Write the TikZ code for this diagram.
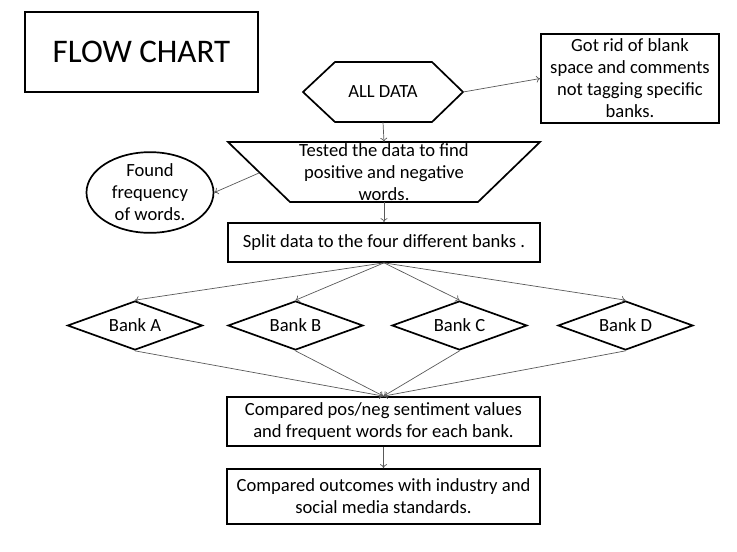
\documentclass[tikz,border=0pt]{standalone}
\usepackage{fontspec}
\setmainfont{Carlito}
\usetikzlibrary{shapes.geometric,arrows.meta}
\begin{document}
\begin{tikzpicture}[x=1pt,y=-1pt,
  shapeline/.style={draw=black, line width=1.7pt},
  mainfont/.style={font=\fontsize{18.6}{22}\selectfont},
  box/.style={shapeline, rectangle, inner sep=0pt, align=center, mainfont},
  ghost/.style={rectangle, inner sep=0pt, align=center, mainfont},
  bank/.style={shapeline, diamond, inner sep=0pt, minimum width=135pt, minimum height=49pt, aspect=2.75, mainfont},
  conn/.style={draw=black!65, line width=0.7pt, -{To[length=4pt,width=7pt]}},
]
\useasboundingbox (0,0) rectangle (737,552);
% title
\node[box, minimum width=233pt, minimum height=80pt, font=\fontsize{33}{38}\selectfont] (title) at (141.5,52) {FLOW CHART};
% hexagon
\draw[shapeline] (303,92) -- (335,62) -- (432,62) -- (463,92) -- (432,122) -- (335,122) -- cycle;
\node[ghost, minimum width=160pt, minimum height=60pt] (all) at (383,92) {ALL DATA};
% right box
\node[box, minimum width=178pt, minimum height=89pt] (got) at (630,78.5) {Got rid of blank\\space and comments\\not tagging specific\\banks.};
% trapezoid
\draw[shapeline] (228,142) -- (540,142) -- (478,202) -- (290,202) -- cycle;
\node[ghost, minimum width=312pt, minimum height=60pt] (trap) at (384,172) {Tested the data to find\\positive and negative\\words.};
\coordinate (trapL) at (259,173);
% ellipse
\node[shapeline, ellipse, inner sep=0pt, minimum width=127pt, minimum height=75pt, align=center, mainfont] (ell) at (150,192.5) {Found\\frequency\\of words.};
% split
\node[box, minimum width=312pt, minimum height=39pt] (split) at (384,242.5) {Split data to the four different banks .};
% banks
\node[bank] (ba) at (135,325.5) {Bank A};
\node[bank] (bb) at (295.5,325.5) {Bank B};
\node[bank] (bc) at (459.5,325.5) {Bank C};
\node[bank] (bd) at (625.5,325.5) {Bank D};
% compare
\node[box, minimum width=313pt, minimum height=49pt] (cmp) at (383.5,421.5) {Compared pos/neg sentiment values\\and frequent words for each bank.};
\node[box, minimum width=313pt, minimum height=55pt] (out) at (383.5,496.5) {Compared outcomes with industry and\\social media standards.};
% connectors
\draw[conn] (all.south) -- (trap.north);
\draw[conn] (all.east) -- (got.west);
\draw[conn] (trapL) -- (ell.east);
\draw[conn] (trap.south) -- (split.north);
\foreach \b in {ba,bb,bc,bd} {
  \draw[conn] (split.south) -- (\b.north);
  \draw[conn] (\b.south) -- (cmp.north);
}
\draw[conn] (cmp.south) -- (out.north);
\end{tikzpicture}
\end{document}
